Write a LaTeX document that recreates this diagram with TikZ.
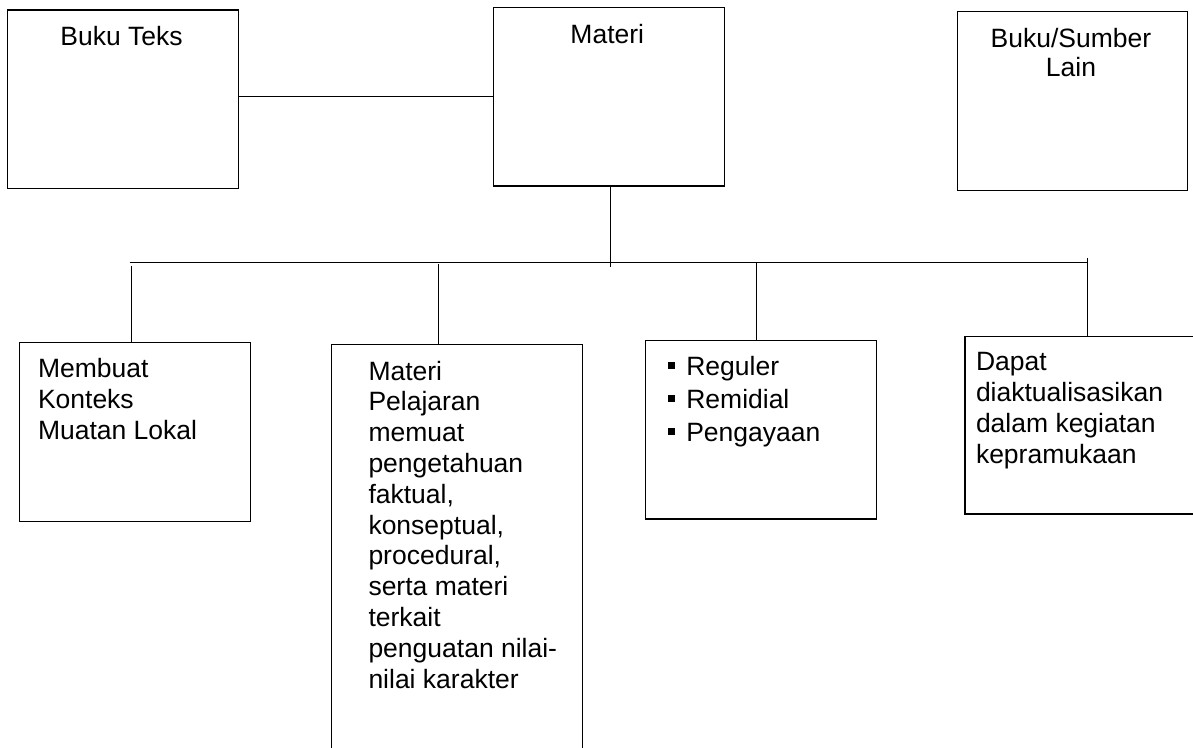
\documentclass[tikz,border=0pt]{standalone}
\usepackage{fontspec}
\setmainfont{Liberation Sans}
\newcommand{\sqbul}{\rule[6.5pt]{7pt}{7pt}\hspace{11pt}}
\begin{document}
\begin{tikzpicture}[x=1pt,y=-1pt,
  box/.style={draw=black, line width=1.2pt, rectangle, inner sep=0pt, outer sep=0pt, anchor=north west},
  txt/.style={inner sep=0pt, outer sep=0pt, font=\fontsize{26.5}{31}\selectfont},
  link/.style={draw=black, line width=1.2pt}]
\useasboundingbox[fill=white] (0,0) rectangle (1193,747);

% boxes
\node[box, minimum width=231pt, minimum height=178.5pt] (bt) at (7.5,10) {};
\node[box, minimum width=231pt, minimum height=178.7pt] (mt) at (493.3,7.3) {};
\node[box, minimum width=230.4pt, minimum height=178.6pt] (bs) at (957.3,11.7) {};
\node[box, minimum width=231.4pt, minimum height=178.5pt] (b1) at (19.3,342.7) {};
\node[box, minimum width=250.7pt, minimum height=440pt] (b2) at (331.6,344.3) {};
\node[box, minimum width=231pt, minimum height=178.3pt] (b3) at (645.7,340.7) {};
\node[box, minimum width=270pt, minimum height=177.3pt] (b4) at (965,336.7) {};

% texts (base anchor = baseline of the last line)
\node[txt, anchor=base] (btT) at (121.6,45) {Buku Teks};
\node[txt, anchor=base] (mtT) at (607.3,43.3) {Materi};
\node[txt, anchor=base, align=center, font=\fontsize{26.5}{29}\selectfont] (bsT) at (1071,76.5) {Buku/Sumber\\Lain};
\node[txt, align=left, anchor=base west] (b1T) at (38,439) {Membuat\\Konteks\\Muatan Lokal};
\node[txt, align=left, anchor=base west, font=\fontsize{26.5}{30.8}\selectfont] (b2T) at (368.5,688) {Materi\\Pelajaran\\memuat\\pengetahuan\\faktual,\\konseptual,\\procedural,\\serta materi\\terkait\\penguatan nilai-\\nilai karakter};
\node[txt, align=left, anchor=base west, font=\fontsize{26.5}{32.7}\selectfont] (b3T) at (668.3,441.1) {\sqbul Reguler\\\sqbul Remidial\\\sqbul Pengayaan};
\node[txt, align=left, anchor=base west] (b4T) at (976,463.7) {Dapat\\diaktualisasikan\\dalam kegiatan\\kepramukaan};

% connectors
\coordinate (busL) at (129.7,262.5);
\coordinate (busR) at (1088.2,262.5);
\coordinate (mtEnd) at (610.5,266.7);
\coordinate (d1) at (131.3,266);
\coordinate (d2) at (438.1,264.3);
\coordinate (d3) at (756.7,262.5);
\coordinate (d4) at (1087.7,258.3);
\draw[link] (mt.west) -- (bt.east |- mt.west);
\draw[link] (mtEnd |- mt.south) -- (mtEnd);
\draw[link] (busL) -- (busR);
\draw[link] (d1) -- (d1 |- b1.north);
\draw[link] (d2) -- (d2 |- b2.north);
\draw[link] (d3) -- (d3 |- b3.north);
\draw[link] (d4) -- (d4 |- b4.north);
\end{tikzpicture}
\end{document}
